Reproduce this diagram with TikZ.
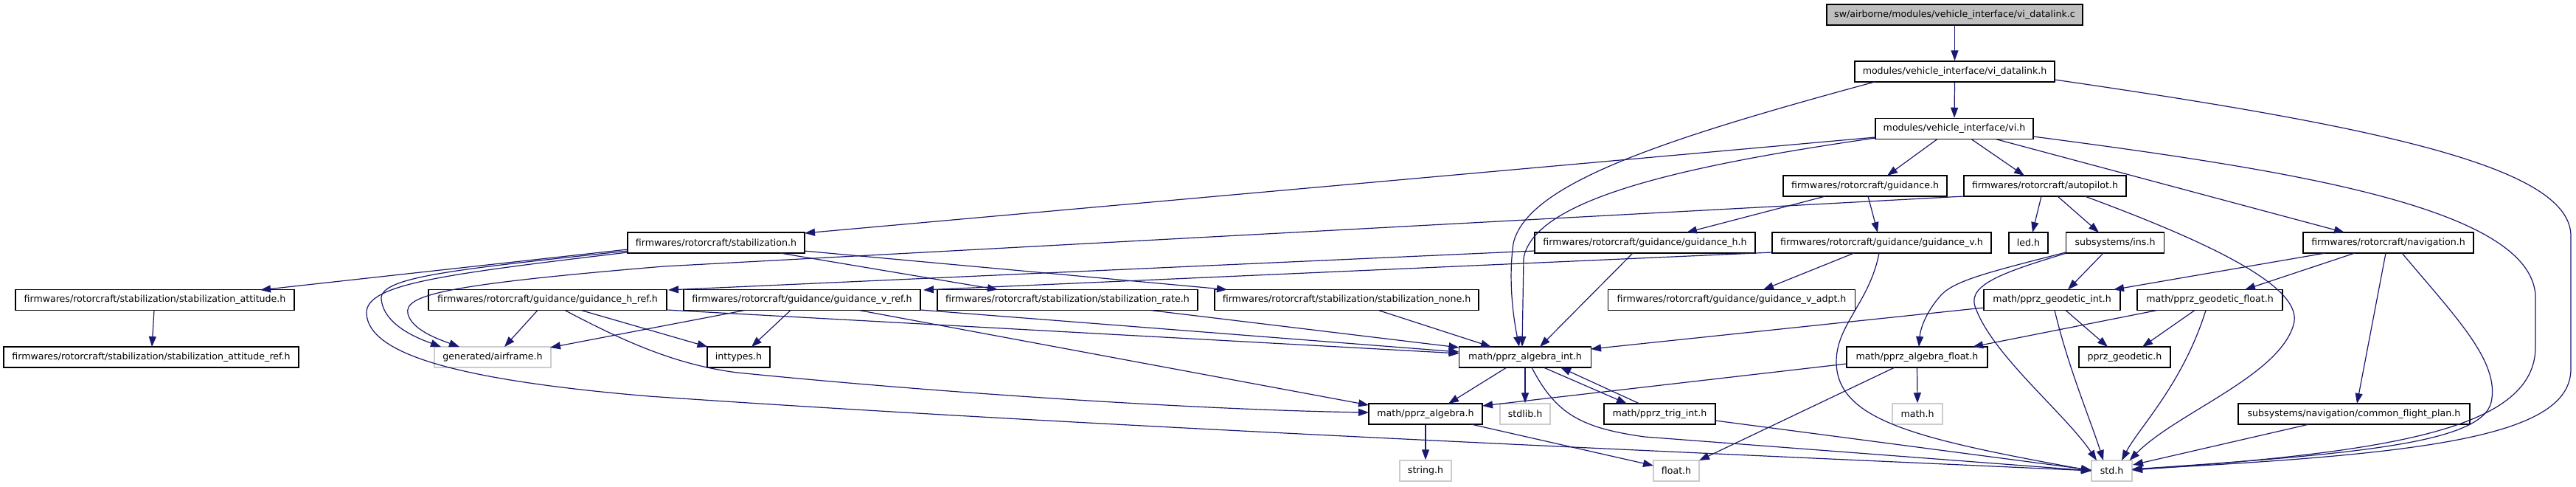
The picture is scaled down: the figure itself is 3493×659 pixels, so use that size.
\documentclass[tikz,border=0pt]{standalone}
\usepackage{fontspec}
\setmainfont{DejaVu Sans}
\usetikzlibrary{calc,arrows.meta}
\definecolor{edgeblue}{RGB}{25,25,112}
\definecolor{lightgrey}{RGB}{191,191,191}
\definecolor{sysgrey}{RGB}{204,204,204}
\tikzset{
  box/.style={draw=black, line width=1.5pt, fill=white, minimum height=28pt, inner sep=0pt, text=black, font=\fontsize{12.6}{15}\selectfont},
  sysbox/.style={box, draw=sysgrey},
  rootbox/.style={box, fill=lightgrey},
  dep/.style={draw=edgeblue, line width=1.2pt, -{Triangle[length=14pt,width=10pt]}},
}
\begin{document}
\begin{tikzpicture}[x=1pt,y=-1pt]
\useasboundingbox (0,0) rectangle (3493,659);
% row 0-2
\node[rootbox, minimum width=347pt] (c) at (2650.5,20) {sw/airborne/modules/vehicle\_interface/vi\_datalink.c};
\node[box, minimum width=271pt] (dlh) at (2650.5,97) {modules/vehicle\_interface/vi\_datalink.h};
\node[box, minimum width=214pt] (vih) at (2650,174.5) {modules/vehicle\_interface/vi.h};
\node[box, minimum width=222pt] (guid) at (2529,252) {firmwares/rotorcraft/guidance.h};
\node[box, minimum width=220pt] (auto) at (2773,252) {firmwares/rotorcraft/autopilot.h};
% row y=329
\node[box, minimum width=240pt] (stab) at (971,329) {firmwares/rotorcraft/stabilization.h};
\node[box, minimum width=299pt] (gh) at (2230.5,329) {firmwares/rotorcraft/guidance/guidance\_h.h};
\node[box, minimum width=297pt] (gv) at (2551.5,329) {firmwares/rotorcraft/guidance/guidance\_v.h};
\node[box, minimum width=53pt] (led) at (2750.5,329) {led.h};
\node[box, minimum width=133pt] (ins) at (2868,329) {subsystems/ins.h};
\node[box, minimum width=231pt] (nav) at (3238.5,329) {firmwares/rotorcraft/navigation.h};
% row y=406.5
\node[box, minimum width=378pt] (satt) at (210,406.5) {firmwares/rotorcraft/stabilization/stabilization\_attitude.h};
\node[box, minimum width=323pt] (ghr) at (742.5,406.5) {firmwares/rotorcraft/guidance/guidance\_h\_ref.h};
\node[box, minimum width=321pt] (gvr) at (1087.5,406.5) {firmwares/rotorcraft/guidance/guidance\_v\_ref.h};
\node[box, minimum width=353pt] (srate) at (1447.5,406.5) {firmwares/rotorcraft/stabilization/stabilization\_rate.h};
\node[box, minimum width=358pt] (snone) at (1826,406.5) {firmwares/rotorcraft/stabilization/stabilization\_none.h};
\node[box, minimum width=335pt] (gva) at (2348,406.5) {firmwares/rotorcraft/guidance/guidance\_v\_adpt.h};
\node[box, minimum width=185pt] (gint) at (2782.5,406.5) {math/pprz\_geodetic\_int.h};
\node[box, minimum width=197pt] (gfl) at (2996.5,406.5) {math/pprz\_geodetic\_float.h};
% row y=484
\node[box, minimum width=400pt] (sattref) at (205,484) {firmwares/rotorcraft/stabilization/stabilization\_attitude\_ref.h};
\node[sysbox, minimum width=158pt] (air) at (668,484) {generated/airframe.h};
\node[box, minimum width=85pt] (intt) at (1001.5,484) {inttypes.h};
\node[box, minimum width=179pt] (aint) at (2068,484) {math/pprz\_algebra\_int.h};
\node[box, minimum width=191pt] (afl) at (2599.5,484) {math/pprz\_algebra\_float.h};
\node[box, minimum width=124pt] (geo) at (2881,484) {pprz\_geodetic.h};
% row y=561
\node[box, minimum width=154pt] (alg) at (1933,561) {math/pprz\_algebra.h};
\node[sysbox, minimum width=68pt] (stdlib) at (2068,561) {stdlib.h};
\node[box, minimum width=151pt] (trig) at (2250.5,561) {math/pprz\_trig\_int.h};
\node[sysbox, minimum width=68pt] (math) at (2600,561) {math.h};
\node[box, minimum width=314pt] (cfp) at (3192,561) {subsystems/navigation/common\_flight\_plan.h};
% row y=638
\node[sysbox, minimum width=70pt] (string) at (1933,638) {string.h};
\node[sysbox, minimum width=62pt] (float) at (2273,638) {float.h};
\node[sysbox, minimum width=55pt] (std) at (2863.5,638) {std.h};

% edges
\draw[dep] (c.south) -- (dlh.north);
\draw[dep] (dlh.south) -- (vih.north);
\draw[dep] ($(dlh)+(-108.5,14)$) .. controls (2250,190) and (2070,250) .. (2052,330) .. controls (2045,380) and (2052,430) .. ($(aint)+(-8,-14)$);
\draw[dep] ($(dlh)+(135.5,11)$) .. controls (3250,175) and (3486,230) .. (3486,320) -- (3486,500) .. controls (3486,590) and (3300,615) .. ($(std)+(27.5,-2)$);
\draw[dep] ($(vih)+(-107,11.5)$) -- ($(stab)+(120,-13)$);
\draw[dep] ($(vih)+(-107,12.5)$) .. controls (2280,225) and (2080,270) .. (2066,350) -- ($(aint)+(-4,-14)$);
\draw[dep] ($(vih)+(-23,14)$) -- ($(guid)+(30,-14)$);
\draw[dep] ($(vih)+(23,14)$) -- ($(auto)+(-28,-14)$);
\draw[dep] ($(vih)+(56,14)$) -- ($(nav)+(-59.5,-14)$);
\draw[dep] ($(vih)+(107,10.5)$) .. controls (3100,230) and (3430,280) .. (3438,400) -- (3438,470) .. controls (3438,580) and (3250,612) .. ($(std)+(27.5,-1)$);
\draw[dep] ($(guid)+(-54,14)$) -- ($(gh)+(56.5,-14)$);
\draw[dep] ($(guid)+(4,14)$) -- ($(gv)+(-5.5,-14)$);
\draw[dep] ($(auto)+(-5,14)$) -- ($(led)+(5.5,-14)$);
\draw[dep] ($(auto)+(17,14)$) -- ($(ins)+(-22,-14)$);
\draw[dep] ($(auto)+(54,14)$) .. controls (3000,330) and (3125,390) .. (3110,440) .. controls (3090,510) and (2950,560) .. ($(std)+(24,-14)$);
\draw[dep] ($(auto)+(-110,14)$) -- (900,361) .. controls (600,386) and (548,400) .. (553,425) .. controls (558,447) and (595,460) .. ($(air)+(-45,-14)$);
\draw[dep] ($(stab)+(-120,9)$) -- ($(satt)+(143,-13.5)$);
\draw[dep] ($(stab)+(-120,11)$) .. controls (620,365) and (515,375) .. (517,405) .. controls (520,440) and (565,458) .. ($(air)+(-70,-14)$);
\draw[dep] ($(stab)+(-120,13)$) .. controls (600,372) and (495,385) .. (497,425) .. controls (500,480) and (620,515) .. (880,537) .. controls (1500,580) and (2400,618) .. ($(std)+(-27.5,0)$);
\draw[dep] ($(stab)+(87,14)$) -- ($(srate)+(-94.5,-14)$);
\draw[dep] ($(stab)+(119,11)$) -- ($(snone)+(-162,-14)$);
\draw[dep] ($(gh)+(-149.5,11)$) -- ($(ghr)+(163.5,-13.5)$);
\draw[dep] ($(gh)+(-16.5,14)$) -- ($(aint)+(20,-14)$);
\draw[dep] ($(gv)+(-148.5,13)$) -- ($(gvr)+(164.5,-13.5)$);
\draw[dep] ($(gv)+(-37.5,14)$) -- ($(gva)+(43,-14)$);
\draw[dep] ($(gv)+(-3.5,14)$) .. controls (2535,410) and (2490,440) .. (2490,490) .. controls (2490,570) and (2600,595) .. ($(std)+(-27.5,0)$);
\draw[dep] ($(ins)+(-16,14)$) -- ($(gint)+(21.5,-14)$);
\draw[dep] ($(ins)+(-67,13)$) .. controls (2700,368) and (2650,380) .. (2632,400) .. controls (2612,422) and (2604,445) .. ($(afl)+(2.5,-14)$);
\draw[dep] ($(ins)+(-66,14)$) .. controls (2720,368) and (2668,385) .. (2678,415) .. controls (2700,480) and (2800,560) .. ($(std)+(-20.5,-14)$);
\draw[dep] ($(nav)+(-85.5,14)$) -- ($(gint)+(83.5,-14)$);
\draw[dep] ($(nav)+(-45.5,14)$) -- ($(gfl)+(47.5,-14)$);
\draw[dep] ($(nav)+(-3.5,14)$) -- ($(cfp)+(4,-14)$);
\draw[dep] ($(nav)+(18.5,14)$) .. controls (3330,430) and (3390,490) .. (3378,545) .. controls (3365,600) and (3200,615) .. ($(std)+(27.5,-2)$);
\draw[dep] ($(satt)+(-1,14)$) -- ($(sattref)+(1,-14)$);
\draw[dep] ($(ghr)+(-13.5,14)$) -- ($(air)+(16,-14)$);
\draw[dep] ($(ghr)+(45.5,14)$) -- ($(intt)+(-42,-14)$);
\draw[dep] ($(ghr)+(23.5,14)$) .. controls (850,465) and (920,495) .. (1000,505) .. controls (1300,535) and (1650,556) .. ($(alg)+(-77,-2)$);
\draw[dep] ($(ghr)+(161.5,13.5)$) -- ($(aint)+(-89.5,-5)$);
\draw[dep] ($(gvr)+(-77.5,14)$) -- ($(air)+(78,-13)$);
\draw[dep] ($(gvr)+(-15.5,14)$) -- ($(intt)+(17.5,-14)$);
\draw[dep] ($(gvr)+(77.5,14)$) -- ($(alg)+(-77,-12)$);
\draw[dep] ($(gvr)+(160.5,13.5)$) -- ($(aint)+(-89.5,-7)$);
\draw[dep] ($(srate)+(112.5,14)$) -- ($(aint)+(-89.5,-13)$);
\draw[dep] ($(snone)+(43,14)$) -- ($(aint)+(-46,-14)$);
\draw[dep] ($(gint)+(-92.5,10.5)$) -- ($(aint)+(89,-11)$);
\draw[dep] ($(gint)+(18.5,14)$) -- ($(geo)+(-23,-14)$);
\draw[dep] ($(gint)+(3.5,14)$) .. controls (2805,500) and (2835,570) .. ($(std)+(-11.5,-14)$);
\draw[dep] ($(gfl)+(-71.5,14)$) -- ($(afl)+(75.5,-14)$);
\draw[dep] ($(gfl)+(-20.5,14)$) -- ($(geo)+(24,-14)$);
\draw[dep] ($(gfl)+(-5.5,14)$) .. controls (2960,520) and (2900,580) .. ($(std)+(13.5,-14)$);
\draw[dep] ($(afl)+(-95.5,9)$) -- ($(alg)+(77,-11)$);
\draw[dep] ($(afl)+(-30.5,14)$) -- ($(float)+(31,-14)$);
\draw[dep] (afl.south) -- (math.north);
\draw[dep] ($(aint)+(-25,14)$) -- ($(alg)+(31,-14)$);
\draw[dep] (aint.south) -- (stdlib.north);
\draw[dep] ($(aint)+(25,14)$) -- ($(trig)+(-44.5,-14)$);
\draw[dep] ($(trig)+(-27.5,-14)$) -- ($(aint)+(48,14)$);
\draw[dep] ($(aint)+(9,14)$) .. controls (2110,562) and (2145,580) .. (2230,592) -- ($(std)+(-27.5,0)$);
\draw[dep] ($(trig)+(75.5,9)$) -- ($(std)+(-27.5,-1)$);
\draw[dep] (alg.south) -- (string.north);
\draw[dep] ($(alg)+(62,14)$) -- ($(float)+(-31,-7)$);
\draw[dep] ($(cfp)+(-61,14)$) -- ($(std)+(28.5,-8)$);
\end{tikzpicture}
\end{document}
